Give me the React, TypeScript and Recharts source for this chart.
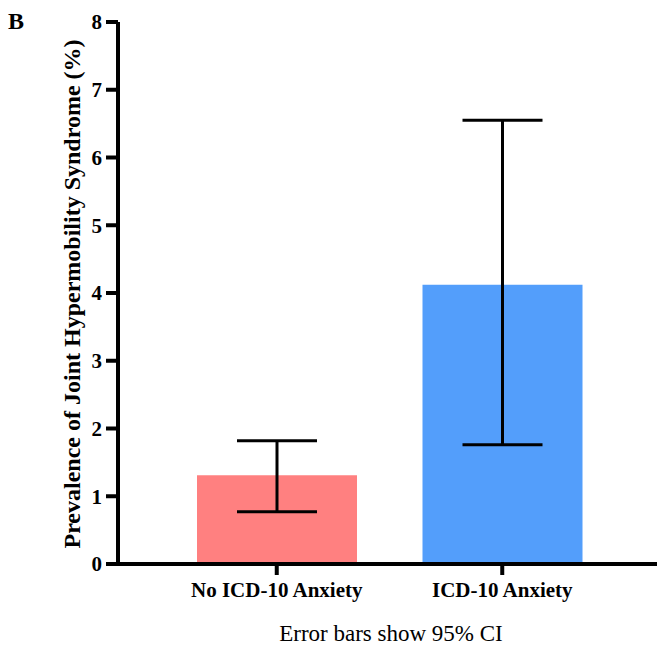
import { Bar, BarChart, Cell, ErrorBar, Label, XAxis, YAxis } from 'recharts'

const groups = ['No ICD-10 Anxiety', 'ICD-10 Anxiety']
const prevalence = [1.31, 4.12]
const ciLow = [0.77, 1.76]
const ciHigh = [1.82, 6.55]
const barColors = ['#FF8080', '#539EFB']
const yTicks = [0, 1, 2, 3, 4, 5, 6, 7, 8]

const serif = '"Liberation Serif", "Times New Roman", serif'

const data = groups.map((g, i) => ({
  group: g,
  value: prevalence[i],
  err: [prevalence[i] - ciLow[i], ciHigh[i] - prevalence[i]],
}))

const axisStyle = { stroke: '#000', strokeWidth: 4 }

export default function App() {
  return (
    <div style={{ position: 'absolute', left: 0, top: 0, width: 658, height: 647, background: '#fff', fontFamily: serif }}>
      <div style={{ position: 'absolute', left: 8, top: 9, fontSize: 24, fontWeight: 'bold', lineHeight: 1 }}>B</div>
      <BarChart
        width={658}
        height={647}
        data={data}
        margin={{ top: 22, right: 1, left: 0, bottom: 53 }}
      >
        <XAxis
          dataKey="group"
          padding={{ left: 46, right: 42 }}
          axisLine={axisStyle}
          tickLine={axisStyle}
          tickSize={11}
          tickMargin={7}
          tick={{ fill: '#000', fontSize: 21, fontWeight: 'bold', fontFamily: serif }}
        />
        <YAxis
          width={118}
          domain={[0, 8]}
          ticks={yTicks}
          interval={0}
          axisLine={axisStyle}
          tickLine={axisStyle}
          tickSize={12}
          tickMargin={4}
          tick={{ fill: '#000', fontSize: 21, fontWeight: 'bold', fontFamily: serif }}
        >
          <Label
            content={() => (
              <text
                x={80}
                y={294}
                transform="rotate(-90, 80, 294)"
                textAnchor="middle"
                fontSize={24}
                fontWeight="bold"
                fontFamily={serif}
                fill="#000"
              >
                Prevalence of Joint Hypermobility Syndrome (%)
              </text>
            )}
          />
        </YAxis>
        <Bar dataKey="value" barSize={160} isAnimationActive={false}>
          {data.map((d, i) => (
            <Cell key={d.group} fill={barColors[i]} />
          ))}
          <ErrorBar dataKey="err" width={40} stroke="#000" strokeWidth={3} isAnimationActive={false} />
        </Bar>
      </BarChart>
      <div style={{ position: 'absolute', left: 0, width: 782, top: 622, textAlign: 'center', fontSize: 23, lineHeight: 1 }}>
        Error bars show 95% CI
      </div>
    </div>
  )
}
